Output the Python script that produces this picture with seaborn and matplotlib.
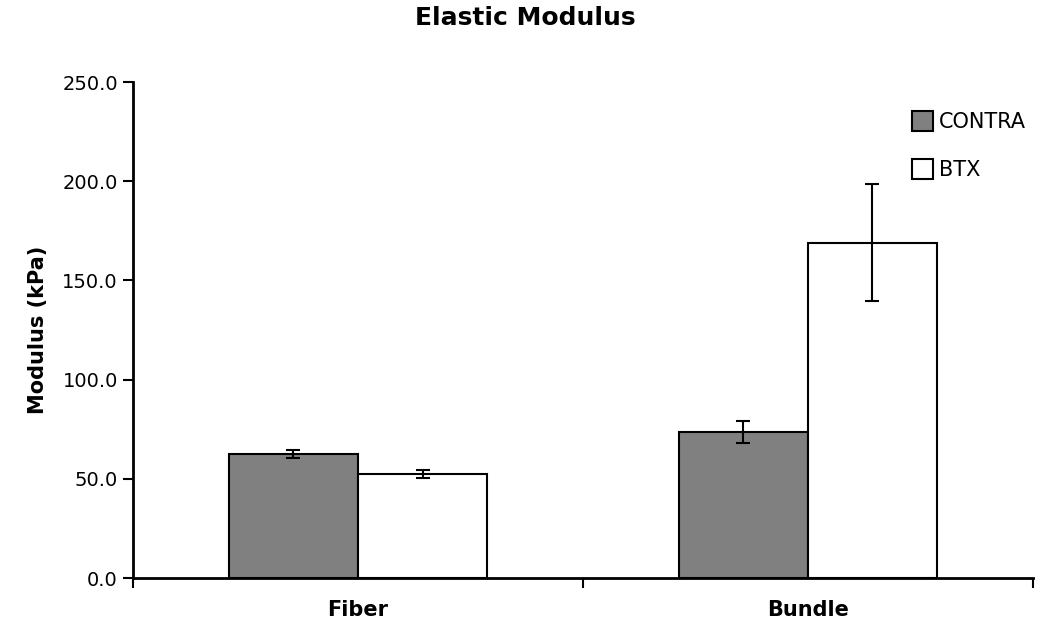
import numpy as np
import pandas as pd
import matplotlib
matplotlib.use("Agg")
import matplotlib.pyplot as plt
import seaborn as sns

# Data
groups = ["Fiber", "Bundle"]
conditions = ["CONTRA", "BTX"]
contra_vals = [62.5, 73.6]
btx_vals = [52.4, 168.9]
contra_err = [2.0, 5.6]
btx_err = [2.2, 29.5]

df = pd.DataFrame({
    "group": groups * 2,
    "condition": ["CONTRA"] * 2 + ["BTX"] * 2,
    "modulus": contra_vals + btx_vals,
})
errs = {"CONTRA": contra_err, "BTX": btx_err}

sns.set_style("white")
plt.rcParams["font.family"] = ["DejaVu Sans"]
plt.rcParams["text.color"] = "black"
plt.rcParams["axes.labelcolor"] = "black"
plt.rcParams["xtick.color"] = "black"
plt.rcParams["ytick.color"] = "black"

fig = plt.figure(figsize=(10.5, 6.27), dpi=100)
ax = fig.add_axes([0.1267, 0.0781, 0.857, 0.7911])

sns.barplot(data=df, x="group", y="modulus", hue="condition",
            hue_order=conditions, order=groups,
            palette={"CONTRA": "#808080", "BTX": "#ffffff"},
            edgecolor="black", linewidth=1.5, width=0.574,
            errorbar=None, ax=ax)

# error bars at bar centres
for cont, cond in zip(ax.containers, conditions):
    xs = [b.get_x() + b.get_width() / 2 for b in cont]
    hs = [b.get_height() for b in cont]
    ax.errorbar(xs, hs, yerr=errs[cond], fmt="none", ecolor="black",
                elinewidth=1.5, capsize=5, capthick=1.5)

ax.set_xlim(-0.5, 1.5)
ax.set_ylim(0, 250)
ax.set_yticks(np.arange(0, 251, 50))
ax.set_yticklabels([f"{v:.1f}" for v in np.arange(0, 251, 50)], fontsize=14)
ax.set_xticks([0, 1])
ax.set_xticklabels(groups, fontsize=15, fontweight="bold")
ax.set_xticks([-0.5, 0.5, 1.5], minor=True)
ax.tick_params(axis="x", which="major", length=0, pad=16, bottom=True)
ax.tick_params(axis="x", which="minor", length=7, width=1.5, direction="out", bottom=True)
ax.tick_params(axis="y", length=7, width=1.5, direction="out", pad=4, left=True)

for s in ["top", "right"]:
    ax.spines[s].set_visible(False)
for s in ["left", "bottom"]:
    ax.spines[s].set_linewidth(2)
    ax.spines[s].set_color("black")

ax.set_xlabel("")
ax.set_ylabel("Modulus (kPa)", fontsize=15, fontweight="bold", labelpad=10)
fig.suptitle("Elastic Modulus", fontsize=18, fontweight="bold", x=0.5, y=0.99)

leg = ax.legend(loc="upper left", bbox_to_anchor=(0.845, 0.98), frameon=False,
                fontsize=15, handlelength=1.0, handleheight=1.1,
                handletextpad=0.3, labelspacing=1.3)

fig.savefig("out.png", dpi=100, facecolor="white")
